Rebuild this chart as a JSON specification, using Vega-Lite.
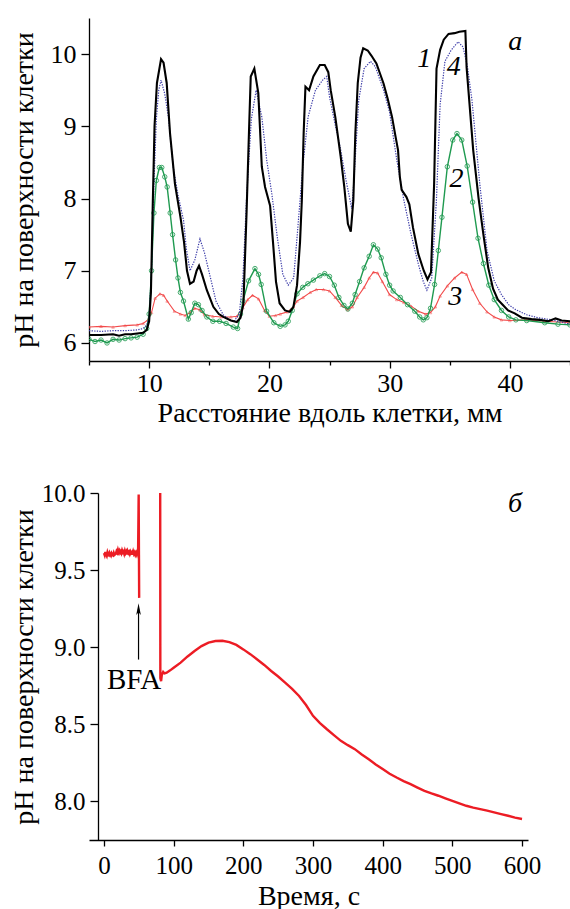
{
  "$schema": "https://vega.github.io/schema/vega-lite/v6.json",
  "background": "white",
  "padding": {"left": 10, "top": 18, "right": 0, "bottom": 0},
  "spacing": 53,
  "config": {
    "view": {"stroke": null},
    "axis": {
      "domainColor": "black", "tickColor": "black", "labelColor": "black", "titleColor": "black",
      "domainWidth": 1.3, "tickWidth": 1.3, "grid": false,
      "labelFont": "Liberation Serif", "titleFont": "Liberation Serif", "titleFontWeight": "normal",
      "labelOverlap": false
    }
  },
  "datasets": {
    "top": [
      {"s":"1","x":5,"y":6.11},{"s":"1","x":6,"y":6.11},{"s":"1","x":7,"y":6.12},{"s":"1","x":7.5,"y":6.1},{"s":"1","x":8,"y":6.12},{"s":"1","x":8.5,"y":6.12},{"s":"1","x":9,"y":6.13},{"s":"1","x":9.5,"y":6.14},{"s":"1","x":9.8,"y":6.18},{"s":"1","x":10.0,"y":6.3},{"s":"1","x":10.15,"y":6.7},{"s":"1","x":10.3,"y":7.9},{"s":"1","x":10.45,"y":9.0},{"s":"1","x":10.65,"y":9.6},{"s":"1","x":10.99,"y":9.93},{"s":"1","x":11.2,"y":9.88},{"s":"1","x":11.46,"y":9.6},{"s":"1","x":11.74,"y":8.9},{"s":"1","x":12.15,"y":8.2},{"s":"1","x":12.6,"y":7.75},{"s":"1","x":12.9,"y":7.4},{"s":"1","x":13.15,"y":7.0},{"s":"1","x":13.4,"y":6.82},{"s":"1","x":13.7,"y":6.85},{"s":"1","x":13.95,"y":7.0},{"s":"1","x":14.15,"y":7.07},{"s":"1","x":14.4,"y":6.95},{"s":"1","x":14.8,"y":6.73},{"s":"1","x":15.34,"y":6.5},{"s":"1","x":15.8,"y":6.4},{"s":"1","x":16.17,"y":6.36},{"s":"1","x":16.8,"y":6.31},{"s":"1","x":17.3,"y":6.29},{"s":"1","x":17.6,"y":6.35},{"s":"1","x":17.84,"y":6.54},{"s":"1","x":18.1,"y":7.79},{"s":"1","x":18.3,"y":8.9},{"s":"1","x":18.45,"y":9.69},{"s":"1","x":18.75,"y":9.8},{"s":"1","x":19.08,"y":9.46},{"s":"1","x":19.37,"y":8.44},{"s":"1","x":19.64,"y":8.16},{"s":"1","x":20.06,"y":7.9},{"s":"1","x":20.3,"y":7.4},{"s":"1","x":20.55,"y":6.85},{"s":"1","x":20.85,"y":6.55},{"s":"1","x":21.3,"y":6.45},{"s":"1","x":21.7,"y":6.43},{"s":"1","x":22.0,"y":6.5},{"s":"1","x":22.3,"y":6.8},{"s":"1","x":22.55,"y":7.4},{"s":"1","x":22.7,"y":7.98},{"s":"1","x":22.85,"y":8.9},{"s":"1","x":23.0,"y":9.55},{"s":"1","x":23.3,"y":9.5},{"s":"1","x":23.66,"y":9.69},{"s":"1","x":24.2,"y":9.85},{"s":"1","x":24.6,"y":9.85},{"s":"1","x":24.9,"y":9.75},{"s":"1","x":25.1,"y":9.5},{"s":"1","x":25.48,"y":9.13},{"s":"1","x":25.93,"y":8.58},{"s":"1","x":26.23,"y":8.16},{"s":"1","x":26.53,"y":7.65},{"s":"1","x":26.77,"y":7.54},{"s":"1","x":26.98,"y":7.97},{"s":"1","x":27.15,"y":8.9},{"s":"1","x":27.35,"y":9.6},{"s":"1","x":27.58,"y":9.95},{"s":"1","x":27.8,"y":10.08},{"s":"1","x":28.18,"y":10.05},{"s":"1","x":28.48,"y":9.98},{"s":"1","x":28.9,"y":9.87},{"s":"1","x":29.5,"y":9.59},{"s":"1","x":29.84,"y":9.38},{"s":"1","x":30.2,"y":9.13},{"s":"1","x":30.5,"y":8.85},{"s":"1","x":30.7,"y":8.67},{"s":"1","x":30.85,"y":8.3},{"s":"1","x":31.0,"y":8.12},{"s":"1","x":31.4,"y":8.02},{"s":"1","x":31.64,"y":7.92},{"s":"1","x":31.94,"y":7.6},{"s":"1","x":32.39,"y":7.23},{"s":"1","x":32.84,"y":7.0},{"s":"1","x":33.15,"y":6.88},{"s":"1","x":33.44,"y":6.98},{"s":"1","x":33.7,"y":8.2},{"s":"1","x":33.9,"y":9.8},{"s":"1","x":34.2,"y":10.06},{"s":"1","x":34.5,"y":10.2},{"s":"1","x":34.9,"y":10.28},{"s":"1","x":35.4,"y":10.29},{"s":"1","x":35.8,"y":10.31},{"s":"1","x":36.3,"y":10.32},{"s":"1","x":36.4,"y":9.82},{"s":"1","x":36.95,"y":8.67},{"s":"1","x":37.4,"y":8.0},{"s":"1","x":37.8,"y":7.5},{"s":"1","x":38.2,"y":7.04},{"s":"1","x":38.6,"y":6.75},{"s":"1","x":39.0,"y":6.6},{"s":"1","x":39.4,"y":6.53},{"s":"1","x":39.85,"y":6.45},{"s":"1","x":40.4,"y":6.41},{"s":"1","x":41,"y":6.35},{"s":"1","x":41.8,"y":6.33},{"s":"1","x":42.5,"y":6.32},{"s":"1","x":43.2,"y":6.3},{"s":"1","x":43.8,"y":6.34},{"s":"1","x":44.3,"y":6.31},{"s":"1","x":45,"y":6.3},

      {"s":"4","x":5,"y":6.17},{"s":"4","x":6,"y":6.16},{"s":"4","x":7,"y":6.17},{"s":"4","x":8,"y":6.17},{"s":"4","x":9,"y":6.18},{"s":"4","x":9.5,"y":6.2},{"s":"4","x":9.8,"y":6.25},{"s":"4","x":10.0,"y":6.35},{"s":"4","x":10.2,"y":7.0},{"s":"4","x":10.4,"y":8.2},{"s":"4","x":10.6,"y":9.1},{"s":"4","x":10.8,"y":9.5},{"s":"4","x":10.99,"y":9.64},{"s":"4","x":11.3,"y":9.45},{"s":"4","x":11.6,"y":9.13},{"s":"4","x":12.0,"y":8.44},{"s":"4","x":12.4,"y":8.05},{"s":"4","x":12.86,"y":7.7},{"s":"4","x":13.1,"y":7.3},{"s":"4","x":13.4,"y":7.0},{"s":"4","x":13.8,"y":7.15},{"s":"4","x":14.23,"y":7.44},{"s":"4","x":14.6,"y":7.25},{"s":"4","x":14.96,"y":7.0},{"s":"4","x":15.56,"y":6.58},{"s":"4","x":16.16,"y":6.39},{"s":"4","x":16.7,"y":6.32},{"s":"4","x":17.06,"y":6.3},{"s":"4","x":17.5,"y":6.4},{"s":"4","x":17.8,"y":6.9},{"s":"4","x":18.1,"y":8.0},{"s":"4","x":18.5,"y":9.1},{"s":"4","x":18.9,"y":9.5},{"s":"4","x":19.37,"y":9.13},{"s":"4","x":19.78,"y":8.53},{"s":"4","x":20.2,"y":8.07},{"s":"4","x":20.67,"y":7.45},{"s":"4","x":21.12,"y":6.95},{"s":"4","x":21.57,"y":6.8},{"s":"4","x":22.02,"y":6.9},{"s":"4","x":22.32,"y":7.5},{"s":"4","x":22.77,"y":8.43},{"s":"4","x":23.22,"y":9.13},{"s":"4","x":23.83,"y":9.5},{"s":"4","x":24.43,"y":9.64},{"s":"4","x":24.77,"y":9.69},{"s":"4","x":25.0,"y":9.41},{"s":"4","x":25.5,"y":9.0},{"s":"4","x":25.9,"y":8.7},{"s":"4","x":26.38,"y":8.25},{"s":"4","x":26.85,"y":7.86},{"s":"4","x":27.05,"y":8.3},{"s":"4","x":27.43,"y":9.36},{"s":"4","x":27.88,"y":9.8},{"s":"4","x":28.4,"y":9.9},{"s":"4","x":28.8,"y":9.83},{"s":"4","x":29.5,"y":9.5},{"s":"4","x":29.99,"y":9.2},{"s":"4","x":30.6,"y":8.53},{"s":"4","x":31.19,"y":7.97},{"s":"4","x":31.79,"y":7.5},{"s":"4","x":32.39,"y":7.09},{"s":"4","x":32.8,"y":6.85},{"s":"4","x":33.1,"y":6.73},{"s":"4","x":33.5,"y":6.9},{"s":"4","x":33.89,"y":7.97},{"s":"4","x":34.2,"y":9.3},{"s":"4","x":34.6,"y":9.9},{"s":"4","x":35.1,"y":10.05},{"s":"4","x":35.7,"y":10.17},{"s":"4","x":36.1,"y":10.1},{"s":"4","x":36.45,"y":9.85},{"s":"4","x":36.85,"y":9.36},{"s":"4","x":37.5,"y":8.2},{"s":"4","x":38.1,"y":7.28},{"s":"4","x":38.7,"y":6.86},{"s":"4","x":39.3,"y":6.67},{"s":"4","x":39.9,"y":6.53},{"s":"4","x":40.5,"y":6.46},{"s":"4","x":41.4,"y":6.39},{"s":"4","x":42.3,"y":6.35},{"s":"4","x":43.5,"y":6.32},{"s":"4","x":45,"y":6.26},

      {"s":"2","x":5,"y":6.05},{"s":"2","x":5.5,"y":6.02},{"s":"2","x":6,"y":6.04},{"s":"2","x":6.5,"y":6.0},{"s":"2","x":7,"y":6.05},{"s":"2","x":7.5,"y":6.04},{"s":"2","x":8,"y":6.06},{"s":"2","x":8.5,"y":6.07},{"s":"2","x":9,"y":6.08},{"s":"2","x":9.5,"y":6.12},{"s":"2","x":9.8,"y":6.2},{"s":"2","x":10.0,"y":6.4},{"s":"2","x":10.2,"y":7.0},{"s":"2","x":10.4,"y":7.8},{"s":"2","x":10.6,"y":8.25},{"s":"2","x":10.85,"y":8.43},{"s":"2","x":11.05,"y":8.43},{"s":"2","x":11.3,"y":8.3},{"s":"2","x":11.5,"y":8.16},{"s":"2","x":11.75,"y":7.8},{"s":"2","x":11.95,"y":7.5},{"s":"2","x":12.2,"y":7.15},{"s":"2","x":12.4,"y":6.9},{"s":"2","x":12.6,"y":6.7},{"s":"2","x":12.86,"y":6.58},{"s":"2","x":13.26,"y":6.33},{"s":"2","x":13.5,"y":6.42},{"s":"2","x":13.8,"y":6.55},{"s":"2","x":14.1,"y":6.53},{"s":"2","x":14.4,"y":6.45},{"s":"2","x":14.8,"y":6.36},{"s":"2","x":15.3,"y":6.3},{"s":"2","x":15.86,"y":6.3},{"s":"2","x":16.4,"y":6.27},{"s":"2","x":17.0,"y":6.22},{"s":"2","x":17.36,"y":6.2},{"s":"2","x":17.6,"y":6.4},{"s":"2","x":17.8,"y":6.58},{"s":"2","x":18.27,"y":6.86},{"s":"2","x":18.8,"y":7.03},{"s":"2","x":19.1,"y":6.95},{"s":"2","x":19.32,"y":6.81},{"s":"2","x":19.77,"y":6.44},{"s":"2","x":20.37,"y":6.28},{"s":"2","x":20.9,"y":6.23},{"s":"2","x":21.3,"y":6.25},{"s":"2","x":21.57,"y":6.3},{"s":"2","x":21.9,"y":6.45},{"s":"2","x":22.3,"y":6.68},{"s":"2","x":22.77,"y":6.77},{"s":"2","x":23.2,"y":6.82},{"s":"2","x":23.66,"y":6.87},{"s":"2","x":24.2,"y":6.93},{"s":"2","x":24.6,"y":6.96},{"s":"2","x":25.0,"y":6.92},{"s":"2","x":25.4,"y":6.8},{"s":"2","x":25.78,"y":6.63},{"s":"2","x":26.2,"y":6.52},{"s":"2","x":26.53,"y":6.47},{"s":"2","x":26.9,"y":6.55},{"s":"2","x":27.13,"y":6.67},{"s":"2","x":27.5,"y":6.85},{"s":"2","x":27.88,"y":7.04},{"s":"2","x":28.3,"y":7.2},{"s":"2","x":28.65,"y":7.36},{"s":"2","x":29.0,"y":7.3},{"s":"2","x":29.3,"y":7.18},{"s":"2","x":29.69,"y":6.95},{"s":"2","x":30.0,"y":6.8},{"s":"2","x":30.29,"y":6.72},{"s":"2","x":30.89,"y":6.63},{"s":"2","x":31.49,"y":6.53},{"s":"2","x":32.09,"y":6.44},{"s":"2","x":32.5,"y":6.36},{"s":"2","x":32.8,"y":6.32},{"s":"2","x":33.1,"y":6.35},{"s":"2","x":33.4,"y":6.48},{"s":"2","x":33.74,"y":6.81},{"s":"2","x":34.05,"y":7.28},{"s":"2","x":34.35,"y":7.74},{"s":"2","x":34.8,"y":8.44},{"s":"2","x":35.25,"y":8.81},{"s":"2","x":35.6,"y":8.9},{"s":"2","x":36.0,"y":8.81},{"s":"2","x":36.45,"y":8.45},{"s":"2","x":36.9,"y":7.95},{"s":"2","x":37.35,"y":7.45},{"s":"2","x":37.8,"y":7.1},{"s":"2","x":38.25,"y":6.8},{"s":"2","x":38.7,"y":6.6},{"s":"2","x":39.3,"y":6.45},{"s":"2","x":39.9,"y":6.36},{"s":"2","x":40.5,"y":6.32},{"s":"2","x":41.4,"y":6.31},{"s":"2","x":42.9,"y":6.28},{"s":"2","x":44,"y":6.26},{"s":"2","x":45,"y":6.25},

      {"s":"3","x":5,"y":6.22},{"s":"3","x":6,"y":6.23},{"s":"3","x":7,"y":6.22},{"s":"3","x":8,"y":6.24},{"s":"3","x":9,"y":6.25},{"s":"3","x":9.5,"y":6.27},{"s":"3","x":9.9,"y":6.32},{"s":"3","x":10.2,"y":6.42},{"s":"3","x":10.5,"y":6.62},{"s":"3","x":10.9,"y":6.68},{"s":"3","x":11.2,"y":6.66},{"s":"3","x":11.5,"y":6.58},{"s":"3","x":12.1,"y":6.44},{"s":"3","x":12.6,"y":6.4},{"s":"3","x":13.0,"y":6.38},{"s":"3","x":13.4,"y":6.42},{"s":"3","x":13.8,"y":6.48},{"s":"3","x":14.2,"y":6.46},{"s":"3","x":14.6,"y":6.39},{"s":"3","x":15.3,"y":6.37},{"s":"3","x":16.0,"y":6.36},{"s":"3","x":16.8,"y":6.36},{"s":"3","x":17.3,"y":6.37},{"s":"3","x":17.8,"y":6.49},{"s":"3","x":18.2,"y":6.6},{"s":"3","x":18.6,"y":6.66},{"s":"3","x":19.1,"y":6.61},{"s":"3","x":19.6,"y":6.45},{"s":"3","x":20.0,"y":6.37},{"s":"3","x":20.5,"y":6.38},{"s":"3","x":20.9,"y":6.4},{"s":"3","x":21.5,"y":6.43},{"s":"3","x":22.0,"y":6.5},{"s":"3","x":22.3,"y":6.58},{"s":"3","x":22.8,"y":6.63},{"s":"3","x":23.4,"y":6.7},{"s":"3","x":23.9,"y":6.74},{"s":"3","x":24.5,"y":6.74},{"s":"3","x":25.0,"y":6.72},{"s":"3","x":25.48,"y":6.63},{"s":"3","x":26.0,"y":6.52},{"s":"3","x":26.5,"y":6.46},{"s":"3","x":26.9,"y":6.5},{"s":"3","x":27.3,"y":6.63},{"s":"3","x":27.88,"y":6.77},{"s":"3","x":28.3,"y":6.9},{"s":"3","x":28.65,"y":6.98},{"s":"3","x":29.0,"y":6.97},{"s":"3","x":29.39,"y":6.85},{"s":"3","x":29.99,"y":6.67},{"s":"3","x":30.59,"y":6.6},{"s":"3","x":31.19,"y":6.56},{"s":"3","x":31.79,"y":6.51},{"s":"3","x":32.39,"y":6.44},{"s":"3","x":32.99,"y":6.4},{"s":"3","x":33.4,"y":6.42},{"s":"3","x":33.8,"y":6.5},{"s":"3","x":34.2,"y":6.65},{"s":"3","x":34.8,"y":6.79},{"s":"3","x":35.4,"y":6.9},{"s":"3","x":36.0,"y":6.98},{"s":"3","x":36.4,"y":6.95},{"s":"3","x":36.9,"y":6.74},{"s":"3","x":37.5,"y":6.55},{"s":"3","x":38.1,"y":6.43},{"s":"3","x":38.7,"y":6.36},{"s":"3","x":39.3,"y":6.32},{"s":"3","x":40.0,"y":6.31},{"s":"3","x":41.4,"y":6.32},{"s":"3","x":42.9,"y":6.3},{"s":"3","x":45,"y":6.28}
    ],
    "topLabels": [
      {"x":32.87,"y":9.825,"label":"1"},
      {"x":35.33,"y":9.71,"label":"4"},
      {"x":35.57,"y":8.16,"label":"2"},
      {"x":35.45,"y":6.53,"label":"3"},
      {"x":40.44,"y":10.06,"label":"а"}
    ],
    "bottom": [
      {"seg":1,"t":0,"pH":9.61},{"seg":1,"t":1,"pH":9.597},{"seg":1,"t":2,"pH":9.618},{"seg":1,"t":3,"pH":9.602},{"seg":1,"t":4,"pH":9.592},{"seg":1,"t":5,"pH":9.614},{"seg":1,"t":6,"pH":9.6},{"seg":1,"t":7,"pH":9.596},{"seg":1,"t":8,"pH":9.612},{"seg":1,"t":9,"pH":9.601},{"seg":1,"t":10,"pH":9.593},{"seg":1,"t":11,"pH":9.609},{"seg":1,"t":12,"pH":9.6},{"seg":1,"t":13,"pH":9.596},{"seg":1,"t":14,"pH":9.611},{"seg":1,"t":15,"pH":9.598},{"seg":1,"t":16,"pH":9.602},{"seg":1,"t":17,"pH":9.606},{"seg":1,"t":18,"pH":9.622},{"seg":1,"t":19,"pH":9.613},{"seg":1,"t":20,"pH":9.631},{"seg":1,"t":21,"pH":9.615},{"seg":1,"t":22,"pH":9.626},{"seg":1,"t":23,"pH":9.612},{"seg":1,"t":24,"pH":9.621},{"seg":1,"t":25,"pH":9.61},{"seg":1,"t":26,"pH":9.628},{"seg":1,"t":27,"pH":9.615},{"seg":1,"t":28,"pH":9.621},{"seg":1,"t":29,"pH":9.606},{"seg":1,"t":30,"pH":9.625},{"seg":1,"t":31,"pH":9.61},{"seg":1,"t":32,"pH":9.62},{"seg":1,"t":33,"pH":9.601},{"seg":1,"t":34,"pH":9.622},{"seg":1,"t":35,"pH":9.61},{"seg":1,"t":36,"pH":9.618},{"seg":1,"t":37,"pH":9.605},{"seg":1,"t":38,"pH":9.62},{"seg":1,"t":39,"pH":9.61},{"seg":1,"t":40,"pH":9.616},{"seg":1,"t":41,"pH":9.6},{"seg":1,"t":42,"pH":9.62},{"seg":1,"t":43,"pH":9.605},{"seg":1,"t":44,"pH":9.615},{"seg":1,"t":45,"pH":9.6},{"seg":1,"t":46,"pH":9.612},{"seg":1,"t":47,"pH":9.6},{"seg":1,"t":48,"pH":9.62},{"seg":1,"t":49,"pH":9.64},{"seg":1,"t":49.8,"pH":9.99},{"seg":1,"t":50.2,"pH":9.6},{"seg":1,"t":50.5,"pH":9.32},
      {"seg":2,"t":80.7,"pH":10.0},{"seg":2,"t":80.9,"pH":8.8},{"seg":2,"t":82,"pH":8.78},{"seg":2,"t":83,"pH":8.82},{"seg":2,"t":85,"pH":8.84},{"seg":2,"t":87,"pH":8.83},{"seg":2,"t":90,"pH":8.835},{"seg":2,"t":95,"pH":8.85},{"seg":2,"t":100,"pH":8.867},{"seg":2,"t":110,"pH":8.9},{"seg":2,"t":120,"pH":8.94},{"seg":2,"t":130,"pH":8.975},{"seg":2,"t":140,"pH":9.007},{"seg":2,"t":150,"pH":9.03},{"seg":2,"t":160,"pH":9.04},{"seg":2,"t":170,"pH":9.042},{"seg":2,"t":180,"pH":9.033},{"seg":2,"t":190,"pH":9.015},{"seg":2,"t":200,"pH":8.986},{"seg":2,"t":210,"pH":8.955},{"seg":2,"t":220,"pH":8.92},{"seg":2,"t":230,"pH":8.885},{"seg":2,"t":240,"pH":8.846},{"seg":2,"t":250,"pH":8.81},{"seg":2,"t":260,"pH":8.77},{"seg":2,"t":270,"pH":8.73},{"seg":2,"t":280,"pH":8.684},{"seg":2,"t":290,"pH":8.625},{"seg":2,"t":300,"pH":8.555},{"seg":2,"t":310,"pH":8.508},{"seg":2,"t":320,"pH":8.468},{"seg":2,"t":330,"pH":8.43},{"seg":2,"t":340,"pH":8.393},{"seg":2,"t":350,"pH":8.365},{"seg":2,"t":360,"pH":8.339},{"seg":2,"t":370,"pH":8.305},{"seg":2,"t":380,"pH":8.274},{"seg":2,"t":390,"pH":8.24},{"seg":2,"t":400,"pH":8.21},{"seg":2,"t":410,"pH":8.18},{"seg":2,"t":420,"pH":8.155},{"seg":2,"t":430,"pH":8.132},{"seg":2,"t":440,"pH":8.112},{"seg":2,"t":450,"pH":8.09},{"seg":2,"t":460,"pH":8.069},{"seg":2,"t":470,"pH":8.052},{"seg":2,"t":480,"pH":8.037},{"seg":2,"t":490,"pH":8.02},{"seg":2,"t":500,"pH":8.004},{"seg":2,"t":510,"pH":7.988},{"seg":2,"t":520,"pH":7.972},{"seg":2,"t":530,"pH":7.96},{"seg":2,"t":540,"pH":7.95},{"seg":2,"t":550,"pH":7.94},{"seg":2,"t":560,"pH":7.929},{"seg":2,"t":570,"pH":7.918},{"seg":2,"t":580,"pH":7.907},{"seg":2,"t":590,"pH":7.895},{"seg":2,"t":600,"pH":7.886}
    ],
    "notes": [
      {"kind":"arrow","t":49.6,"pH":8.92,"pH2":9.25},
      {"kind":"head","t":49.6,"pH":9.245},
      {"kind":"bfa","t":43.3,"pH":8.73,"label":"BFA"},
      {"kind":"panel","t":590,"pH":9.88,"label":"б"}
    ]
  },
  "vconcat": [
    {
      "width": 481,
      "height": 343,
      "layer": [
        {
          "data": {"name": "top"},
          "transform": [{"filter": "datum.s == '3'"}],
          "mark": {"type": "line", "color": "#f24a4a", "strokeWidth": 1.1, "clip": true},
          "encoding": {
            "x": {"field": "x", "type": "quantitative",
              "scale": {"domain": [5, 45], "nice": false, "zero": false},
              "axis": {
                "title": "Расстояние вдоль клетки, мм",
                "values": [5, 10, 15, 20, 25, 30, 35, 40, 45],
                "format": "d",
                "labelExpr": "datum.value % 10 == 0 ? datum.label : ''",
                "labelFontSize": 26, "titleFontSize": 28,
                "tickSize": {"condition": {"test": "datum.value % 10 != 0", "value": 4}, "value": 7},
                "labelPadding": 2.5, "titlePadding": 3
              }
            },
            "y": {"field": "y", "type": "quantitative",
              "scale": {"domain": [5.75, 10.5], "nice": false, "zero": false},
              "axis": {
                "title": "pH на поверхности клетки",
                "values": [6, 6.5, 7, 7.5, 8, 8.5, 9, 9.5, 10, 10.5],
                "format": "d",
                "labelExpr": "datum.value % 1 == 0 ? datum.label : ''",
                "labelFontSize": 26, "titleFontSize": 28,
                "tickSize": {"condition": {"test": "datum.value % 1 != 0", "value": 4}, "value": 8},
                "labelPadding": 5, "titlePadding": 12
              }
            }
          }
        },
        {
          "data": {"name": "top"},
          "transform": [{"filter": "datum.s == '3'"}],
          "mark": {"type": "point", "shape": "triangle-up", "filled": false, "size": 7, "strokeWidth": 0.7, "color": "#f24a4a", "clip": true},
          "encoding": {"x": {"field": "x", "type": "quantitative"}, "y": {"field": "y", "type": "quantitative"}}
        },
        {
          "data": {"name": "top"},
          "transform": [{"filter": "datum.s == '2'"}],
          "mark": {"type": "line", "color": "#1f9a50", "strokeWidth": 1.4, "clip": true},
          "encoding": {"x": {"field": "x", "type": "quantitative"}, "y": {"field": "y", "type": "quantitative"}}
        },
        {
          "data": {"name": "top"},
          "transform": [{"filter": "datum.s == '2'"}],
          "mark": {"type": "point", "shape": "circle", "filled": false, "size": 20, "strokeWidth": 0.9, "color": "#1f9a50", "opacity": 0.9, "clip": true},
          "encoding": {"x": {"field": "x", "type": "quantitative"}, "y": {"field": "y", "type": "quantitative"}}
        },
        {
          "data": {"name": "top"},
          "transform": [{"filter": "datum.s == '4'"}],
          "mark": {"type": "line", "color": "#3a3aa8", "strokeWidth": 1.2, "strokeDash": [1.3, 1.3], "clip": true},
          "encoding": {"x": {"field": "x", "type": "quantitative"}, "y": {"field": "y", "type": "quantitative"}}
        },
        {
          "data": {"name": "top"},
          "transform": [{"filter": "datum.s == '1'"}],
          "mark": {"type": "line", "color": "black", "strokeWidth": 2.1, "clip": true},
          "encoding": {"x": {"field": "x", "type": "quantitative"}, "y": {"field": "y", "type": "quantitative"}}
        },
        {
          "data": {"name": "topLabels"},
          "mark": {"type": "text", "font": "Liberation Serif", "fontStyle": "italic", "fontSize": 28, "align": "center", "baseline": "alphabetic", "color": "black"},
          "encoding": {
            "x": {"field": "x", "type": "quantitative"},
            "y": {"field": "y", "type": "quantitative"},
            "text": {"field": "label"}
          }
        }
      ]
    },
    {
      "width": 439,
      "height": 347,
      "layer": [
        {
          "data": {"name": "bottom"},
          "mark": {"type": "line", "color": "#ec1c24", "strokeWidth": 2.4, "clip": true},
          "encoding": {
            "x": {"field": "t", "type": "quantitative",
              "scale": {"domain": [-21.5, 608.6], "nice": false, "zero": false},
              "axis": {
                "title": "Время, с",
                "values": [0, 50, 100, 150, 200, 250, 300, 350, 400, 450, 500, 550, 600],
                "format": "d",
                "labelExpr": "datum.value % 100 == 0 ? datum.label : ''",
                "labelFontSize": 25, "titleFontSize": 28,
                "tickSize": {"condition": {"test": "datum.value % 100 != 0", "value": 4}, "value": 6},
                "labelPadding": 7, "titlePadding": 4
              }
            },
            "y": {"field": "pH", "type": "quantitative",
              "scale": {"domain": [7.75, 10], "nice": false, "zero": false},
              "axis": {
                "title": "pH на поверхности клетки",
                "values": [8, 8.5, 9, 9.5, 10],
                "format": ".1f",
                "offset": -9,
                "labelFontSize": 25, "titleFontSize": 28,
                "tickSize": 8,
                "labelPadding": 5, "titlePadding": 3
              }
            },
            "detail": {"field": "seg", "type": "nominal"}
          }
        },
        {
          "data": {"name": "notes"},
          "transform": [{"filter": "datum.kind == 'arrow'"}],
          "mark": {"type": "rule", "color": "black", "strokeWidth": 1.2},
          "encoding": {
            "x": {"field": "t", "type": "quantitative"},
            "y": {"field": "pH", "type": "quantitative"},
            "y2": {"field": "pH2"}
          }
        },
        {
          "data": {"name": "notes"},
          "transform": [{"filter": "datum.kind == 'head'"}],
          "mark": {"type": "point", "shape": "M0,-1L0.38,0.9L0,0.45L-0.38,0.9Z", "filled": true, "color": "black", "size": 150, "opacity": 1},
          "encoding": {
            "x": {"field": "t", "type": "quantitative"},
            "y": {"field": "pH", "type": "quantitative"}
          }
        },
        {
          "data": {"name": "notes"},
          "transform": [{"filter": "datum.kind == 'bfa'"}],
          "mark": {"type": "text", "font": "Liberation Serif", "fontSize": 29, "align": "center", "baseline": "alphabetic", "color": "black"},
          "encoding": {
            "x": {"field": "t", "type": "quantitative"},
            "y": {"field": "pH", "type": "quantitative"},
            "text": {"field": "label"}
          }
        },
        {
          "data": {"name": "notes"},
          "transform": [{"filter": "datum.kind == 'panel'"}],
          "mark": {"type": "text", "font": "Liberation Serif", "fontStyle": "italic", "fontSize": 28, "align": "center", "baseline": "alphabetic", "color": "black"},
          "encoding": {
            "x": {"field": "t", "type": "quantitative"},
            "y": {"field": "pH", "type": "quantitative"},
            "text": {"field": "label"}
          }
        }
      ]
    }
  ]
}
